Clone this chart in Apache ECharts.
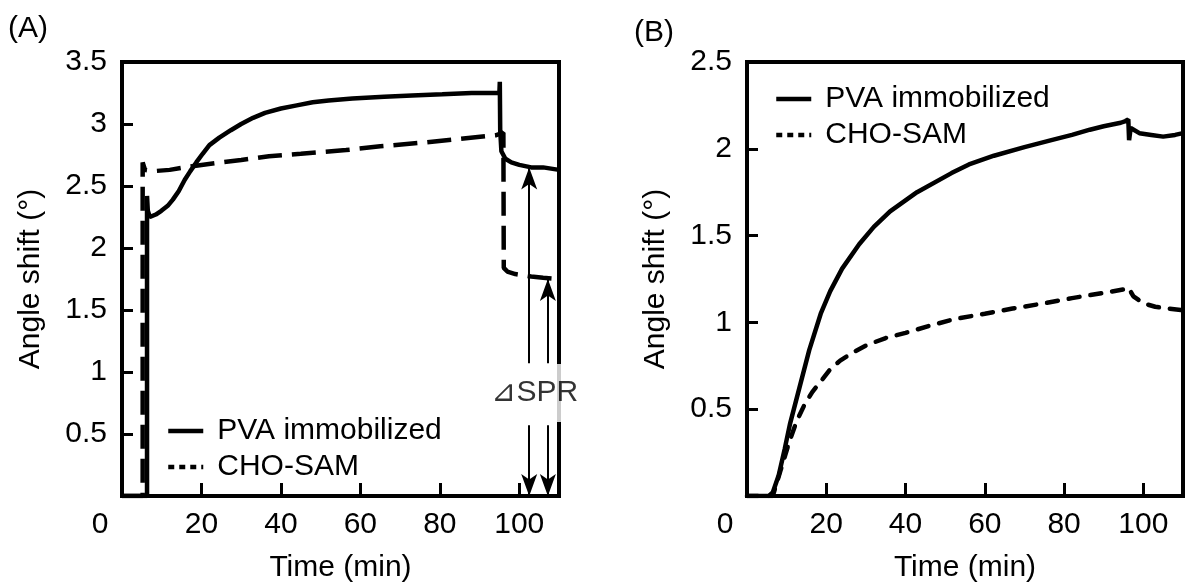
<!DOCTYPE html>
<html><head><meta charset="utf-8">
<script src="https://cdn.jsdelivr.net/npm/echarts@6/dist/echarts.min.js"></script>
<style>html,body{margin:0;padding:0;background:#fff}#c{width:1187px;height:588px}</style>
</head><body><div id="c"></div>
<script>
const panelLabels = ['(A)', '(B)'];
const seriesNames = ['PVA immobilized', 'CHO-SAM'];
const xAxisName = 'Time (min)';
const yAxisName = 'Angle shift (°)';
const deltaLabel = '⊿SPR';

// Panel A: [time, angle shift]
const aPVA = [[0,0],[6.3,0],[6.3,2.42],[6.5,2.3],[7,2.25],[8.5,2.27],[9.9,2.3],[11.5,2.34],[12.8,2.39],[14.3,2.46],[15.8,2.55],[17.2,2.62],[18.7,2.69],[20.3,2.76],[22,2.83],[24.5,2.89],[27.4,2.95],[30,3.0],[33,3.05],[36,3.09],[40,3.125],[44,3.15],[48,3.175],[52,3.19],[58,3.205],[66,3.22],[73,3.23],[80.6,3.24],[88,3.25],[95,3.25],[95.1,3.34],[95.2,2.95],[95.5,2.78],[96.5,2.72],[98,2.69],[100,2.67],[103,2.65],[106,2.65],[110,2.63]];
const aCHO = [[0,0],[5.2,0],[5.2,2.69],[5.8,2.63],[8,2.62],[12,2.63],[17.7,2.66],[25,2.69],[30,2.71],[37,2.74],[45,2.76],[56.4,2.79],[65,2.82],[75.8,2.85],[85,2.88],[94.2,2.91],[96,2.93],[96.1,1.84],[97,1.81],[99,1.79],[103,1.77],[106,1.76],[110,1.75]];
// ΔSPR arrows: [time, top value]; gap in the arrows around the label: [low, high]
const aArrows = [[102.5, 2.65], [107.2, 1.75]];
const aArrowGap = [0.57, 1.07];
const aDeltaPos = [103.9, 0.83];

// Panel B
const bPVA = [[0,0],[5.5,0],[6.5,0.02],[8,0.12],[9.5,0.27],[10.9,0.42],[13.3,0.63],[15.7,0.84],[18.6,1.05],[21,1.18],[24,1.31],[28.3,1.45],[32,1.55],[36.1,1.64],[42.9,1.75],[51.6,1.86],[56,1.91],[62.3,1.96],[70,2.01],[76.8,2.05],[82,2.08],[86.5,2.11],[90,2.13],[94.3,2.15],[95.5,2.16],[96.2,2.17],[96.4,2.05],[96.8,2.12],[99,2.09],[102,2.08],[105,2.07],[108,2.08],[110,2.09]];
const bCHO = [[0,0],[5.5,0],[6.5,0],[8.5,0.15],[10.5,0.3],[12.5,0.43],[14.6,0.53],[16.5,0.6],[18.6,0.66],[21,0.73],[23.5,0.78],[27,0.83],[30.3,0.87],[35,0.91],[40,0.94],[46,0.98],[52.5,1.02],[60,1.05],[67,1.08],[75,1.11],[82,1.14],[90,1.17],[95,1.19],[96.2,1.2],[97.5,1.15],[100,1.11],[103,1.09],[106,1.08],[110,1.07]];

const yMaxA = 3.5, yMaxB = 2.5;
const FONT = 'Liberation Sans, Arial, sans-serif';

function xAxisCfg(gridIndex) {
  return {
    type: 'value', gridIndex, min: 0, max: 110, interval: 20,
    name: xAxisName, nameLocation: 'middle', nameGap: 57,
    nameTextStyle: { fontSize: 30, color: '#000', fontFamily: FONT },
    axisLine: { show: false },
    axisTick: { inside: true, length: 13, lineStyle: { width: 3, color: '#000' } },
    splitLine: { show: false },
    axisLabel: {
      fontSize: 30, color: '#000', fontFamily: FONT, margin: 14,
      formatter: v => v === 0 ? '{z|0}' : (v === 110 ? '' : String(v)),
      rich: { z: { fontSize: 30, color: '#000', fontFamily: FONT, padding: [0, 44, 0, 0] } }
    }
  };
}
function yAxisCfg(gridIndex, max) {
  return {
    type: 'value', gridIndex, min: 0, max: max, interval: 0.5,
    name: yAxisName, nameLocation: 'middle', nameGap: 76,
    nameTextStyle: { fontSize: 30, color: '#000', fontFamily: FONT },
    axisLine: { show: false },
    axisTick: { inside: true, length: 11, lineStyle: { width: 3, color: '#000' } },
    splitLine: { show: false },
    axisLabel: {
      fontSize: 30, color: '#000', fontFamily: FONT, margin: 15,
      formatter: v => v === 0 ? '' : String(v)
    }
  };
}
function legendCfg(left, top) {
  return {
    left, top, orient: 'vertical', itemWidth: 35, itemHeight: 14, itemGap: 6,
    selectedMode: false,
    itemStyle: { color: 'rgba(0,0,0,0)', borderWidth: 0, opacity: 0 },
    textStyle: { fontSize: 30, color: '#000', fontFamily: FONT, padding: [0, 0, 0, 9] },
    data: [
      { name: seriesNames[0], lineStyle: { type: 'solid', width: 4.5, color: '#000' } },
      { name: seriesNames[1], lineStyle: { type: [6, 5], width: 4.5, color: '#000' } }
    ]
  };
}

const arrowLines = [];
aArrows.forEach(a => {
  arrowLines.push([{ coord: [a[0], aArrowGap[1]], symbol: 'none' }, { coord: [a[0], a[1]], symbol: 'arrow' }]);
  arrowLines.push([{ coord: [a[0], aArrowGap[0]], symbol: 'none' }, { coord: [a[0], 0], symbol: 'arrow' }]);
});

const chart = echarts.init(document.getElementById('c'), null, { renderer: 'canvas' });
chart.setOption({
  animation: false,
  backgroundColor: '#fff',
  textStyle: { fontFamily: FONT },
  graphic: [
    { type: 'text', left: 8, top: 14, style: { text: panelLabels[0], fontSize: 30, fill: '#000', fontFamily: FONT } },
    { type: 'text', left: 634, top: 18, style: { text: panelLabels[1], fontSize: 30, fill: '#000', fontFamily: FONT } }
  ],
  grid: [
    { left: 122, top: 62, width: 437, height: 437, show: true, borderColor: '#000', borderWidth: 4, backgroundColor: 'transparent' },
    { left: 747, top: 62, width: 436, height: 438, show: true, borderColor: '#000', borderWidth: 4, backgroundColor: 'transparent' }
  ],
  xAxis: [xAxisCfg(0), xAxisCfg(1)],
  yAxis: [yAxisCfg(0, yMaxA), yAxisCfg(1, yMaxB)],
  legend: [legendCfg(161, 411), legendCfg(769, 79)],
  series: [
    {
      name: seriesNames[0], type: 'line', xAxisIndex: 0, yAxisIndex: 0, data: aPVA,
      symbol: 'none', silent: true, lineStyle: { color: '#000', width: 4.5 }, itemStyle: { color: '#000' },
      markLine: {
        silent: true, symbol: ['none', 'arrow'], symbolSize: [12, 22],
        lineStyle: { color: '#000', width: 2, type: 'solid' }, label: { show: false },
        data: arrowLines
      }
    },
    {
      name: seriesNames[1], type: 'line', xAxisIndex: 0, yAxisIndex: 0, data: aCHO,
      symbol: 'none', silent: true, lineStyle: { color: '#000', width: 4.5, type: [24, 10] }, itemStyle: { color: '#000' }
    },
    {
      name: 'deltaSPR', type: 'scatter', xAxisIndex: 0, yAxisIndex: 0, data: [aDeltaPos], z: 20, silent: true,
      symbolSize: 2, itemStyle: { color: 'rgba(255,255,255,0)' },
      label: { show: true, position: 'inside', formatter: deltaLabel, fontSize: 30, color: '#000', fontFamily: FONT, backgroundColor: '#fff', padding: [14, 0] }
    },
    {
      name: seriesNames[0], type: 'line', xAxisIndex: 1, yAxisIndex: 1, data: bPVA,
      symbol: 'none', silent: true, lineStyle: { color: '#000', width: 4.5 }, itemStyle: { color: '#000' }
    },
    {
      name: seriesNames[1], type: 'line', xAxisIndex: 1, yAxisIndex: 1, data: bCHO,
      symbol: 'none', silent: true, lineStyle: { color: '#000', width: 4.5, type: [11, 11], cap: 'round' }, itemStyle: { color: '#000' }
    }
  ]
});
</script></body></html>
